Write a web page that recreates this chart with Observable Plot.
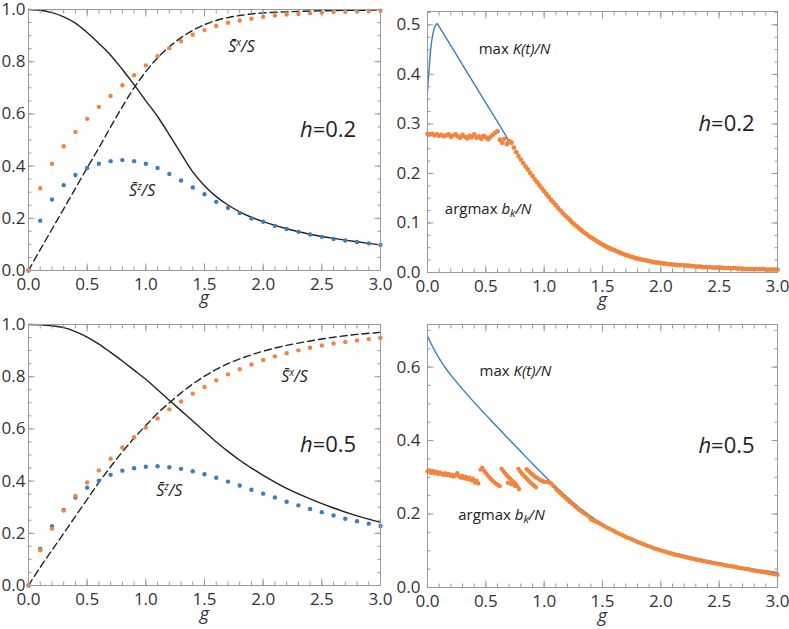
<!DOCTYPE html>
<html>
<head>
<meta charset="utf-8">
<script src="https://cdn.jsdelivr.net/npm/d3@7"></script>
<script src="https://cdn.jsdelivr.net/npm/@observablehq/plot@0.6"></script>
<style>
  body { margin: 0; background: #fff; }
  #wrap { position: relative; width: 789px; height: 629px; overflow: hidden; font-family: "Open Sans", sans-serif; }
  .panel { position: absolute; }
</style>
</head>
<body>
<div id="wrap"></div>
<script>
// ---------- tick labels ----------
const xTicks = [0, 0.5, 1.0, 1.5, 2.0, 2.5, 3.0];
const xMinorTicks = [0,0.1,0.2,0.3,0.4,0.5,0.6,0.7,0.8,0.9,1.0,1.1,1.2,1.3,1.4,1.5,1.6,1.7,1.8,1.9,2.0,2.1,2.2,2.3,2.4,2.5,2.6,2.7,2.8,2.9,3.0];
const yTicksLeft = [0, 0.2, 0.4, 0.6, 0.8, 1.0];
const yMinorLeft = [0,0.05,0.1,0.15,0.2,0.25,0.3,0.35,0.4,0.45,0.5,0.55,0.6,0.65,0.7,0.75,0.8,0.85,0.9,0.95,1.0];
const yTicksTR = [0, 0.1, 0.2, 0.3, 0.4, 0.5];
const yMinorTR = [0,0.025,0.05,0.075,0.1,0.125,0.15,0.175,0.2,0.225,0.25,0.275,0.3,0.325,0.35,0.375,0.4,0.425,0.45,0.475,0.5,0.525];
const yTicksBR = [0, 0.2, 0.4, 0.6];
const yMinorBR = [0,0.05,0.1,0.15,0.2,0.25,0.3,0.35,0.4,0.45,0.5,0.55,0.6,0.65,0.7];

// ---------- left panels: dots ----------
const gDots = [0,0.1,0.2,0.3,0.4,0.5,0.6,0.7,0.8,0.9,1.0,1.1,1.2,1.3,1.4,1.5,1.6,1.7,1.8,1.9,2.0,2.1,2.2,2.3,2.4,2.5,2.6,2.7,2.8,2.9,3.0];
const sxDotsH02 = [0,0.315,0.409,0.476,0.531,0.581,0.627,0.669,0.710,0.748,0.786,0.821,0.852,0.879,0.903,0.921,0.937,0.949,0.958,0.965,0.972,0.977,0.981,0.983,0.986,0.988,0.990,0.991,0.992,0.994,0.995];
const szDotsH02 = [0,0.191,0.272,0.327,0.366,0.393,0.409,0.419,0.423,0.419,0.409,0.393,0.370,0.345,0.318,0.292,0.263,0.240,0.220,0.199,0.187,0.171,0.159,0.148,0.138,0.129,0.121,0.115,0.109,0.104,0.098];
const sxDotsH05 = [0,0.135,0.218,0.287,0.343,0.395,0.441,0.486,0.529,0.568,0.605,0.640,0.675,0.705,0.735,0.761,0.786,0.809,0.829,0.847,0.864,0.878,0.890,0.901,0.911,0.920,0.927,0.933,0.939,0.944,0.949];
const szDotsH05 = [0,0.140,0.227,0.289,0.337,0.375,0.402,0.424,0.440,0.449,0.455,0.457,0.453,0.447,0.438,0.426,0.413,0.398,0.383,0.367,0.352,0.337,0.321,0.307,0.293,0.281,0.268,0.256,0.246,0.237,0.228];

// ---------- left panels: curves ----------
const gCurve = [0,0.1,0.2,0.3,0.4,0.5,0.6,0.7,0.8,0.9,1.0,1.1,1.2,1.3,1.4,1.5,1.6,1.7,1.8,1.9,2.0,2.2,2.4,2.6,2.8,3.0];
const solidH02  = [1.0,0.997,0.988,0.972,0.948,0.912,0.870,0.825,0.770,0.712,0.650,0.590,0.520,0.448,0.378,0.325,0.283,0.251,0.225,0.204,0.187,0.160,0.139,0.123,0.110,0.098];
const dashedH02 = [0,0.080,0.158,0.236,0.315,0.393,0.470,0.550,0.628,0.700,0.762,0.815,0.857,0.892,0.920,0.942,0.958,0.969,0.977,0.983,0.987,0.991,0.994,0.996,0.997,0.998];
const solidH05  = [1.0,0.999,0.995,0.988,0.973,0.952,0.925,0.893,0.860,0.825,0.790,0.750,0.710,0.670,0.630,0.590,0.550,0.514,0.480,0.450,0.422,0.372,0.332,0.297,0.267,0.242];
const dashedH05 = [0,0.070,0.135,0.200,0.265,0.330,0.395,0.455,0.512,0.565,0.613,0.660,0.700,0.738,0.772,0.802,0.828,0.850,0.868,0.884,0.898,0.920,0.937,0.951,0.962,0.970];

// ---------- right panels ----------
const kmaxH02 = [[0,0.364],[0.005,0.385],[0.011,0.401],[0.018,0.425],[0.026,0.448],[0.035,0.466],[0.046,0.482],[0.057,0.493],[0.069,0.499],[0.083,0.503],[0.2,0.458],[0.4,0.381],[0.6,0.304],[0.7,0.265]];
const argmaxH02 = [[0,0.280],[0.02,0.279],[0.04,0.280],[0.06,0.277],[0.08,0.279],[0.10,0.276],[0.12,0.278],[0.14,0.275],[0.16,0.277],[0.18,0.279],[0.20,0.274],[0.22,0.277],[0.24,0.279],[0.26,0.275],[0.28,0.272],[0.30,0.278],[0.32,0.274],[0.34,0.271],[0.36,0.276],[0.38,0.273],[0.40,0.279],[0.42,0.272],[0.44,0.275],[0.46,0.270],[0.48,0.276],[0.50,0.273],[0.52,0.269],[0.54,0.274],[0.56,0.278],[0.58,0.282],[0.60,0.285],[0.62,0.268],[0.64,0.262],[0.66,0.270],[0.68,0.259],[0.70,0.265],[0.72,0.262],[0.74,0.252],[0.76,0.243],[0.78,0.235],[0.80,0.228],[0.82,0.221],[0.84,0.214],[0.86,0.208],[0.88,0.201],[0.90,0.195],[0.92,0.188],[0.94,0.182],[0.96,0.176],[0.98,0.170],[1.00,0.164],[1.02,0.158],[1.04,0.152],[1.06,0.146],[1.08,0.141],[1.10,0.136],[1.12,0.130],[1.14,0.125],[1.16,0.120],[1.18,0.115],[1.20,0.111],[1.22,0.106],[1.24,0.101],[1.26,0.097],[1.28,0.093],[1.30,0.089],[1.32,0.085],[1.34,0.081],[1.36,0.078],[1.38,0.074],[1.40,0.071],[1.42,0.068],[1.44,0.065],[1.46,0.062],[1.48,0.059],[1.50,0.056],[1.52,0.054],[1.54,0.051],[1.56,0.049],[1.58,0.047],[1.60,0.045],[1.62,0.043],[1.64,0.041],[1.66,0.039],[1.68,0.037],[1.70,0.035],[1.72,0.034],[1.74,0.032],[1.76,0.031],[1.78,0.029],[1.80,0.028],[1.82,0.027],[1.84,0.026],[1.86,0.025],[1.88,0.024],[1.90,0.023],[1.92,0.022],[1.94,0.021],[1.96,0.020],[1.98,0.020],[2.00,0.019],[2.02,0.018],[2.04,0.018],[2.06,0.017],[2.08,0.017],[2.10,0.016],[2.12,0.016],[2.14,0.015],[2.16,0.015],[2.18,0.015],[2.20,0.014],[2.22,0.014],[2.24,0.014],[2.26,0.013],[2.28,0.013],[2.30,0.012],[2.32,0.012],[2.34,0.012],[2.36,0.011],[2.38,0.011],[2.40,0.011],[2.42,0.011],[2.44,0.010],[2.46,0.010],[2.48,0.010],[2.50,0.010],[2.52,0.010],[2.54,0.009],[2.56,0.009],[2.58,0.009],[2.60,0.009],[2.62,0.009],[2.64,0.009],[2.66,0.008],[2.68,0.008],[2.70,0.008],[2.72,0.007],[2.74,0.007],[2.76,0.007],[2.78,0.007],[2.80,0.007],[2.82,0.007],[2.84,0.007],[2.86,0.007],[2.88,0.007],[2.90,0.006],[2.92,0.006],[2.94,0.006],[2.96,0.006],[2.98,0.006],[3.00,0.006]];

const kmaxH05 = [[0,0.684],[0.05,0.652],[0.1,0.624],[0.15,0.600],[0.2,0.578],[0.3,0.540],[0.4,0.504],[0.5,0.470],[0.6,0.436],[0.7,0.403],[0.8,0.370],[0.9,0.337],[1.0,0.305],[1.1,0.274],[1.2,0.245],[1.3,0.218],[1.4,0.194],[1.5,0.172],[1.6,0.154],[1.7,0.139],[1.8,0.126],[1.9,0.114],[2.0,0.104],[2.2,0.087],[2.4,0.073],[2.6,0.061],[2.8,0.050],[3.0,0.041]];
const argmaxH05 = [[0,0.316],[0.015,0.319],[0.03,0.312],[0.045,0.317],[0.06,0.311],[0.075,0.315],[0.09,0.309],[0.105,0.313],[0.12,0.310],[0.135,0.307],[0.15,0.311],[0.165,0.306],[0.18,0.309],[0.195,0.304],[0.21,0.307],[0.225,0.302],[0.24,0.306],[0.255,0.311],[0.27,0.303],[0.285,0.299],[0.30,0.304],[0.315,0.297],[0.33,0.301],[0.345,0.295],[0.36,0.299],[0.375,0.292],[0.39,0.296],[0.405,0.286],[0.42,0.291],[0.435,0.283],
[0.455,0.321],[0.47,0.326],[0.485,0.318],[0.50,0.312],[0.515,0.306],[0.53,0.300],[0.545,0.295],[0.56,0.290],[0.575,0.286],[0.59,0.282],[0.605,0.279],[0.62,0.276],
[0.635,0.323],[0.65,0.317],[0.665,0.311],[0.68,0.305],[0.695,0.300],[0.71,0.296],[0.725,0.291],[0.74,0.287],[0.755,0.282],[0.77,0.276],[0.785,0.268],[0.69,0.285],[0.72,0.281],[0.75,0.276],
[0.78,0.323],[0.795,0.316],[0.81,0.310],[0.825,0.305],[0.84,0.300],[0.855,0.295],[0.87,0.290],[0.885,0.285],[0.90,0.281],[0.915,0.277],[0.93,0.273],
[0.85,0.322],[0.865,0.318],[0.88,0.313],[0.895,0.309],[0.91,0.305],[0.925,0.301],[0.94,0.298],[0.955,0.295],[0.97,0.292],[0.985,0.290],[1.0,0.288],[1.015,0.287],[1.03,0.288],[1.045,0.286],
[1.06,0.283],[1.08,0.276],[1.10,0.268],[1.12,0.262],[1.14,0.256],[1.16,0.250],[1.18,0.244],[1.20,0.238],[1.22,0.233],[1.24,0.228],[1.26,0.222],[1.28,0.217],[1.30,0.212],[1.32,0.207],[1.34,0.203],[1.36,0.199],[1.38,0.194],[1.40,0.186],[1.42,0.183],[1.44,0.180],[1.46,0.177],[1.48,0.174],[1.50,0.170],[1.52,0.166],[1.54,0.163],[1.56,0.160],[1.58,0.157],[1.60,0.153],[1.62,0.150],[1.64,0.147],[1.66,0.144],[1.68,0.141],[1.70,0.138],[1.72,0.135],[1.74,0.133],[1.76,0.130],[1.78,0.127],[1.80,0.124],[1.82,0.122],[1.84,0.119],[1.86,0.117],[1.88,0.114],[1.90,0.112],[1.92,0.110],[1.94,0.107],[1.96,0.105],[1.98,0.103],[2.00,0.101],[2.02,0.099],[2.04,0.097],[2.06,0.095],[2.08,0.093],[2.10,0.092],[2.12,0.090],[2.14,0.088],[2.16,0.087],[2.18,0.085],[2.20,0.084],[2.22,0.082],[2.24,0.081],[2.26,0.079],[2.28,0.078],[2.30,0.076],[2.32,0.075],[2.34,0.074],[2.36,0.072],[2.38,0.071],[2.40,0.070],[2.42,0.069],[2.44,0.067],[2.46,0.066],[2.48,0.065],[2.50,0.064],[2.52,0.063],[2.54,0.061],[2.56,0.060],[2.58,0.059],[2.60,0.058],[2.62,0.057],[2.64,0.056],[2.66,0.054],[2.68,0.053],[2.70,0.052],[2.72,0.051],[2.74,0.050],[2.76,0.049],[2.78,0.047],[2.80,0.046],[2.82,0.045],[2.84,0.044],[2.86,0.043],[2.88,0.042],[2.90,0.041],[2.92,0.040],[2.94,0.039],[2.96,0.037],[2.98,0.036],[3.00,0.035]];

// ---------- styling ----------
const ORANGE = "#f3843b", BLUE = "#3a7dc0", FRAME = "#9a9a9a", TXT = "#333", INK = "#222";
const FONT = "'Open Sans', sans-serif";

const rich = {
  "S̄ˣ/S": '<tspan>S̄</tspan><tspan font-size="10" dy="-6">x</tspan><tspan dy="6">/S</tspan>',
  "S̄ᶻ/S": '<tspan>S̄</tspan><tspan font-size="10" dy="-6">z</tspan><tspan dy="6">/S</tspan>',
  "max K(t)/N": 'max <tspan font-style="italic">K(t)/N</tspan>',
  "argmax bₖ/N": 'argmax <tspan font-style="italic">b</tspan><tspan font-style="italic" font-size="11" dy="3">k</tspan><tspan font-style="italic" dy="-3">/N</tspan>',
  "h=0.2": '<tspan font-style="italic">h</tspan>=0.2',
  "h=0.5": '<tspan font-style="italic">h</tspan>=0.5'
};

function frameAxes(yTicks, yMinor, yPad) {
  const tk = {fill: "none", stroke: FRAME, label: null};
  return [
    Plot.frame({stroke: FRAME}),
    Plot.axisX(xMinorTicks, {...tk, anchor: "bottom", tickSize: -3.5}),
    Plot.axisX(xTicks, {...tk, anchor: "bottom", tickSize: -6.5}),
    Plot.axisX(xMinorTicks, {...tk, anchor: "top", tickSize: -3.5}),
    Plot.axisX(xTicks, {...tk, anchor: "top", tickSize: -6.5}),
    Plot.axisY(yMinor, {...tk, anchor: "left", tickSize: -3.5}),
    Plot.axisY(yTicks, {...tk, anchor: "left", tickSize: -6.5}),
    Plot.axisY(yMinor, {...tk, anchor: "right", tickSize: -3.5}),
    Plot.axisY(yTicks, {...tk, anchor: "right", tickSize: -6.5}),
    Plot.axisX(xTicks, {anchor: "bottom", tickSize: 0, tickPadding: 7, tickFormat: d => d.toFixed(1), fontSize: 17, fill: TXT, label: null}),
    Plot.axisY(yTicks, {anchor: "left", tickSize: 0, tickPadding: yPad, tickFormat: d => d.toFixed(1), fontSize: 17, fill: TXT, label: null})
  ];
}

function panel({left, top, width, height, mt, mb, ml, mr, yDomain, yTicks, yMinor, yPad, gDy, marks}) {
  const svg = Plot.plot({
    width, height,
    marginTop: mt, marginBottom: mb, marginLeft: ml, marginRight: mr,
    x: {domain: [0, 3]},
    y: {domain: yDomain},
    style: {fontFamily: FONT, fontSize: "17px", background: "transparent", overflow: "visible", color: INK},
    marks: [
      ...marks,
      ...frameAxes(yTicks, yMinor, yPad),
      Plot.text(["g"], {frameAnchor: "bottom", lineAnchor: "top", dy: gDy, text: d => d, fontSize: 18, fontStyle: "italic", fill: TXT})
    ]
  });
  svg.querySelectorAll("text").forEach(t => {
    const k = t.textContent;
    if (rich[k] !== undefined) t.innerHTML = rich[k];
  });
  const div = document.createElement("div");
  div.className = "panel";
  div.style.left = left + "px";
  div.style.top = top + "px";
  div.appendChild(svg);
  document.getElementById("wrap").appendChild(div);
}

const lbl = (s, x, y, size, italic) => Plot.text([s], {x, y, text: d => d, fontSize: size, fill: INK, fontStyle: italic ? "italic" : "normal"});

const dotsOf = (vals) => gDots.map((g, i) => ({g, v: vals[i]}));
const curveOf = (vals) => gCurve.map((g, i) => ({g, v: vals[i]}));

// Top-left: h=0.2 spins
panel({
  left: 0, top: 0, width: 394, height: 310, mt: 9, mb: 40, ml: 28, mr: 14,
  yDomain: [0, 1], yTicks: yTicksLeft, yMinor: yMinorLeft, yPad: 3, gDy: 21,
  marks: [
    Plot.line(curveOf(solidH02), {x: "g", y: "v", stroke: INK, strokeWidth: 1.4, curve: "catmull-rom"}),
    Plot.line(curveOf(dashedH02), {x: "g", y: "v", stroke: INK, strokeWidth: 1.4, strokeDasharray: "7,4", curve: "catmull-rom"}),
    Plot.dot(dotsOf(szDotsH02), {x: "g", y: "v", r: 2.2, fill: BLUE}),
    Plot.dot(dotsOf(sxDotsH02), {x: "g", y: "v", r: 2.2, fill: ORANGE}),
    lbl("S̄ˣ/S", 1.815, 0.855, 16, true),
    lbl("S̄ᶻ/S", 0.969, 0.305, 16, true),
    lbl("h=0.2", 2.553, 0.539, 22, false)
  ]
});

// Top-right: h=0.2 Krylov
panel({
  left: 395, top: 0, width: 394, height: 310, mt: 11, mb: 38, ml: 32, mr: 12,
  yDomain: [0, 0.527], yTicks: yTicksTR, yMinor: yMinorTR, yPad: 7, gDy: 21,
  marks: [
    Plot.line(kmaxH02, {x: d => d[0], y: d => d[1], stroke: BLUE, strokeWidth: 1.4}),
    Plot.dot(argmaxH02, {x: d => d[0], y: d => d[1], r: 2.4, fill: ORANGE}),
    lbl("max K(t)/N", 0.746, 0.45, 15, false),
    lbl("argmax bₖ/N", 0.519, 0.128, 15, false),
    lbl("h=0.2", 2.563, 0.30, 22, false)
  ]
});

// Bottom-left: h=0.5 spins
panel({
  left: 0, top: 310, width: 394, height: 319, mt: 14, mb: 44, ml: 28, mr: 14,
  yDomain: [0, 1], yTicks: yTicksLeft, yMinor: yMinorLeft, yPad: 3, gDy: 22,
  marks: [
    Plot.line(curveOf(solidH05), {x: "g", y: "v", stroke: INK, strokeWidth: 1.4, curve: "catmull-rom"}),
    Plot.line(curveOf(dashedH05), {x: "g", y: "v", stroke: INK, strokeWidth: 1.4, strokeDasharray: "7,4", curve: "catmull-rom"}),
    Plot.dot(dotsOf(szDotsH05), {x: "g", y: "v", r: 2.2, fill: BLUE}),
    Plot.dot(dotsOf(sxDotsH05), {x: "g", y: "v", r: 2.2, fill: ORANGE}),
    lbl("S̄ˣ/S", 2.267, 0.80, 16, true),
    lbl("S̄ᶻ/S", 1.20, 0.364, 16, true),
    lbl("h=0.5", 2.553, 0.54, 22, false)
  ]
});

// Bottom-right: h=0.5 Krylov
panel({
  left: 395, top: 310, width: 394, height: 319, mt: 14, mb: 42, ml: 32, mr: 12,
  yDomain: [0, 0.716], yTicks: yTicksBR, yMinor: yMinorBR, yPad: 7, gDy: 22,
  marks: [
    Plot.line(kmaxH05, {x: d => d[0], y: d => d[1], stroke: BLUE, strokeWidth: 1.4, curve: "catmull-rom"}),
    Plot.dot(argmaxH05, {x: d => d[0], y: d => d[1], r: 2.2, fill: ORANGE}),
    lbl("max K(t)/N", 0.754, 0.59, 15, false),
    lbl("argmax bₖ/N", 0.634, 0.196, 15, false),
    lbl("h=0.5", 2.563, 0.386, 22, false)
  ]
});
</script>
</body>
</html>
